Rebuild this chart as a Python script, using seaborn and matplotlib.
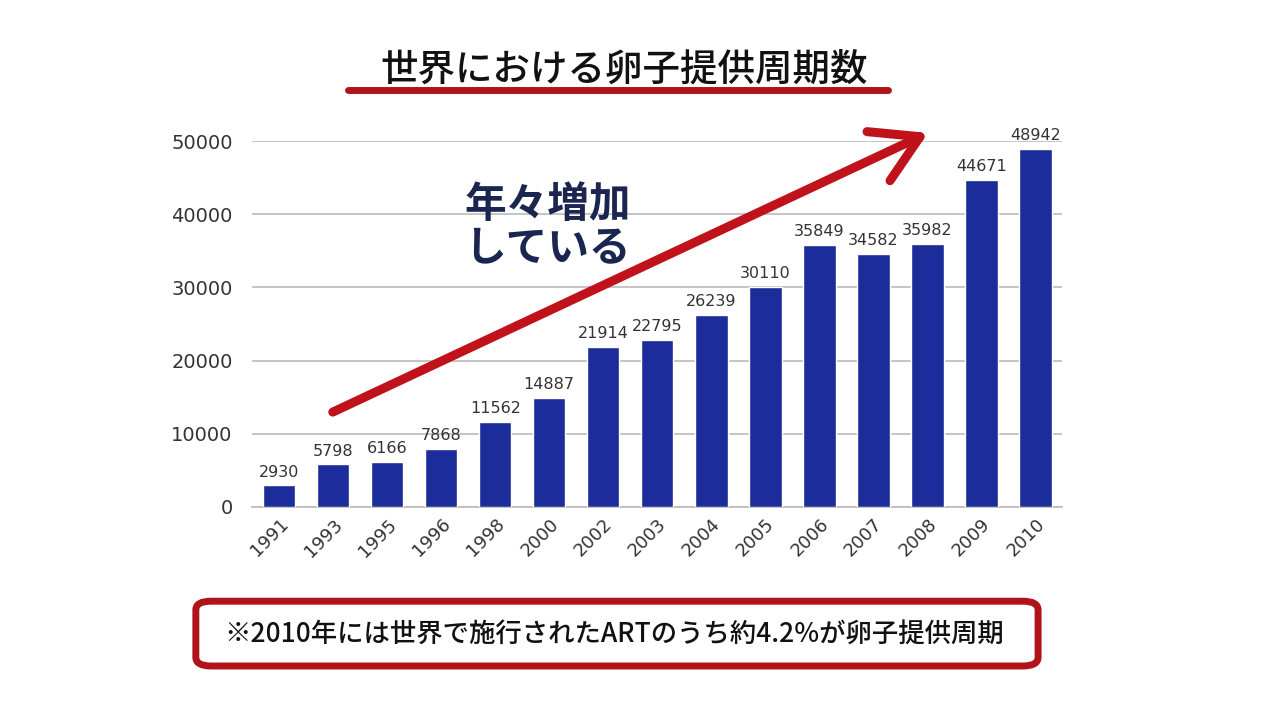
import matplotlib
matplotlib.use("Agg")
import matplotlib.pyplot as plt
import seaborn as sns
import pandas as pd
from matplotlib.patches import FancyBboxPatch, FancyArrowPatch

# data
years = ["1991", "1993", "1995", "1996", "1998", "2000", "2002", "2003",
         "2004", "2005", "2006", "2007", "2008", "2009", "2010"]
cycles = [2930, 5798, 6166, 7868, 11562, 14887, 21914, 22795,
          26239, 30110, 35849, 34582, 35982, 44671, 48942]
yticks = [0, 10000, 20000, 30000, 40000, 50000]

title = "世界における卵子提供周期数"
trend_text = "年々増加\nしている"
note = "※2010年には世界で施行されたARTのうち約4.2%が卵子提供周期"

sns.set_theme(style="white")
plt.rcParams['font.family'] = ['Noto Sans CJK JP', 'DejaVu Sans']
num_font = ['DejaVu Sans']

df = pd.DataFrame({"year": years, "cycles": cycles})

fig = plt.figure(figsize=(12.8, 7.2), dpi=100)
ax = fig.add_axes([0.197, 0.296, 0.633, 0.508])

sns.barplot(data=df, x="year", y="cycles", color="#1c2c9a", width=0.6,
            saturation=1, ax=ax, zorder=3)

ax.set_ylim(0, 50000)
ax.set_xlim(-0.5, len(years) - 0.5)
ax.set_yticks(yticks)
ax.set_yticklabels([str(t) for t in yticks], fontsize=14, color="#333333",
                   family=num_font)
ax.yaxis.grid(True, color="#bbbbbb", linewidth=1.2)
ax.set_axisbelow(True)
for s in ["top", "right", "left"]:
    ax.spines[s].set_visible(False)
ax.spines["bottom"].set_color("#bbbbbb")
ax.spines["bottom"].set_linewidth(1.2)
ax.tick_params(axis="y", length=0, pad=14)
ax.tick_params(axis="x", length=0, pad=6)
plt.setp(ax.get_xticklabels(), rotation=45, ha="right", rotation_mode="anchor",
         fontsize=13, color="#333333", family=num_font)
ax.set_xlabel("")
ax.set_ylabel("")

# value labels above bars
for i, v in enumerate(cycles):
    ax.text(i, v + 800, str(v), ha="center", va="bottom", fontsize=11.5,
            color="#333333", clip_on=False, family=num_font)

# title with red underline
fig.text(0.488, 0.903, title, ha="center", va="center", fontsize=27,
         fontweight="medium", color="#111111")
fig.add_artist(plt.Line2D([0.272, 0.694], [0.875, 0.875], color="#b0141a",
                          linewidth=5, transform=fig.transFigure))

# trend arrow (open chevron head)
fig.add_artist(FancyArrowPatch(
    (0.258, 0.426), (0.727, 0.817), transform=fig.transFigure,
    arrowstyle="->,head_length=1.1,head_width=0.65",
    mutation_scale=30, color="#c0121a", linewidth=6.5,
    capstyle="round", joinstyle="round", zorder=5))

fig.text(0.363, 0.685, trend_text, ha="left", va="center", fontsize=30,
         fontweight="semibold", color="#1a2550", linespacing=1.05)

# note box
box = FancyBboxPatch((0.153, 0.075), 0.658, 0.090, transform=fig.transFigure,
                     boxstyle="round,pad=0.0,rounding_size=0.012",
                     facecolor="white", edgecolor="#b0141a", linewidth=5)
fig.add_artist(box)
fig.text(0.480, 0.118, note, ha="center", va="center", fontsize=19,
         fontweight="medium", color="#111111")

fig.savefig("out.png", dpi=100)
